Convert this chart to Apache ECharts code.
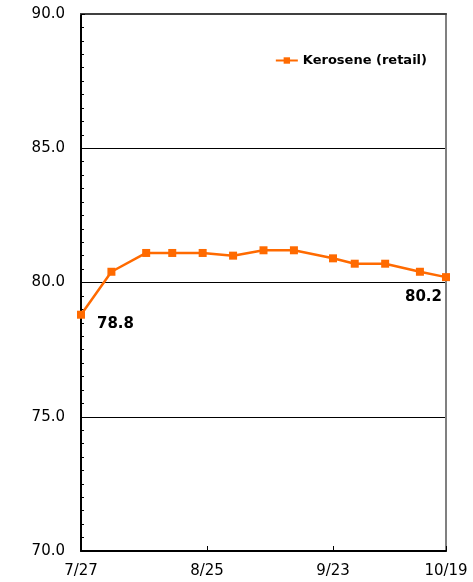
<!DOCTYPE html>
<html>
<head>
<meta charset="utf-8">
<script src="https://cdn.jsdelivr.net/npm/echarts@6/dist/echarts.min.js"></script>
<style>
  html, body { margin: 0; padding: 0; background: #fff; }
  #chart { width: 473px; height: 582px; }
</style>
</head>
<body>
<div id="chart"></div>
<script>
// survey dates (2015) and kerosene retail price
const dates = ['2015-07-27', '2015-08-03', '2015-08-11', '2015-08-17', '2015-08-24', '2015-08-31',
  '2015-09-07', '2015-09-14', '2015-09-23', '2015-09-28', '2015-10-05', '2015-10-13', '2015-10-19'];
const kerosene = [78.8, 80.4, 81.1, 81.1, 81.1, 81.0, 81.2, 81.2, 80.9, 80.7, 80.7, 80.4, 80.2];
const xTickDates = ['2015-07-27', '2015-08-25', '2015-09-23', '2015-10-19'];
const yTicks = [70, 75, 80, 85, 90];
const seriesName = 'Kerosene (retail)';

function toTime(s) {
  const p = s.split('-');
  return new Date(+p[0], +p[1] - 1, +p[2]).getTime();
}

const fontFamily = 'DejaVu Sans';
const xTicks = xTickDates.map(toTime);
const lastIdx = kerosene.length - 1;

// 首尾两个点显示数值
const seriesData = kerosene.map((v, i) => {
  const item = { value: [toTime(dates[i]), v] };
  if (i === 0) {
    item.label = { show: true, position: 'right', distance: 12, offset: [0, 9] };
  } else if (i === lastIdx) {
    item.label = { show: true, position: 'left', distance: 0, offset: [0, 20] };
  }
  return item;
});

const chart = echarts.init(document.getElementById('chart'));
chart.setOption({
  animation: false,
  textStyle: { fontFamily: fontFamily },
  grid: {
    left: 81,
    right: 27,
    top: 14,
    bottom: 31
  },
  legend: {
    right: 41,
    top: 49,
    itemWidth: 22,
    itemHeight: 8,
    itemGap: 6,
    textStyle: {
      color: '#000',
      fontWeight: 'bold',
      fontSize: 13,
      fontFamily: fontFamily
    },
    data: [seriesName]
  },
  xAxis: [{
    type: 'value',
    min: xTicks[0],
    max: xTicks[xTicks.length - 1],
    axisLine: { lineStyle: { color: '#000', width: 2 } },
    axisTick: {
      show: true,
      inside: true,
      length: 5,
      customValues: xTicks,
      lineStyle: { color: '#000', width: 1 }
    },
    axisLabel: {
      customValues: xTicks,
      margin: 13,
      color: '#000',
      fontSize: 15,
      fontFamily: fontFamily,
      showMinLabel: true,
      showMaxLabel: true,
      formatter: function (val) {
        const d = new Date(val);
        return (d.getMonth() + 1) + '/' + d.getDate();
      }
    },
    splitLine: { show: false }
  }, {
    // 上边框
    type: 'value',
    position: 'top',
    axisLine: { show: true, lineStyle: { color: '#404040', width: 2 } },
    axisTick: { show: false },
    axisLabel: { show: false },
    splitLine: { show: false }
  }],
  yAxis: [{
    type: 'value',
    min: yTicks[0],
    max: yTicks[yTicks.length - 1],
    interval: 5,
    axisLine: { show: true, lineStyle: { color: '#000', width: 2 } },
    axisTick: { show: true, inside: true, length: 4, lineStyle: { color: '#000' } },
    minorTick: { show: true, splitNumber: 10, length: 3, lineStyle: { color: '#000' } },
    axisLabel: {
      color: '#000',
      fontSize: 15,
      margin: 16,
      fontFamily: fontFamily,
      formatter: function (v) { return v.toFixed(1); }
    },
    splitLine: { show: true, lineStyle: { color: '#000', width: 1 } }
  }, {
    // 右边框
    type: 'value',
    position: 'right',
    axisLine: { show: true, lineStyle: { color: '#808080', width: 2 } },
    axisTick: { show: false },
    axisLabel: { show: false },
    splitLine: { show: false }
  }],
  series: [{
    name: seriesName,
    type: 'line',
    data: seriesData,
    symbol: 'rect',
    symbolSize: 8,
    color: '#FF6A00',
    lineStyle: { color: '#FF6A00', width: 2.5 },
    itemStyle: { color: '#FF6A00' },
    label: {
      show: false,
      color: '#000',
      fontWeight: 'bold',
      fontSize: 15,
      fontFamily: fontFamily,
      formatter: function (p) { return p.value[1].toFixed(1); }
    },
    z: 5
  }]
});
</script>
</body>
</html>
